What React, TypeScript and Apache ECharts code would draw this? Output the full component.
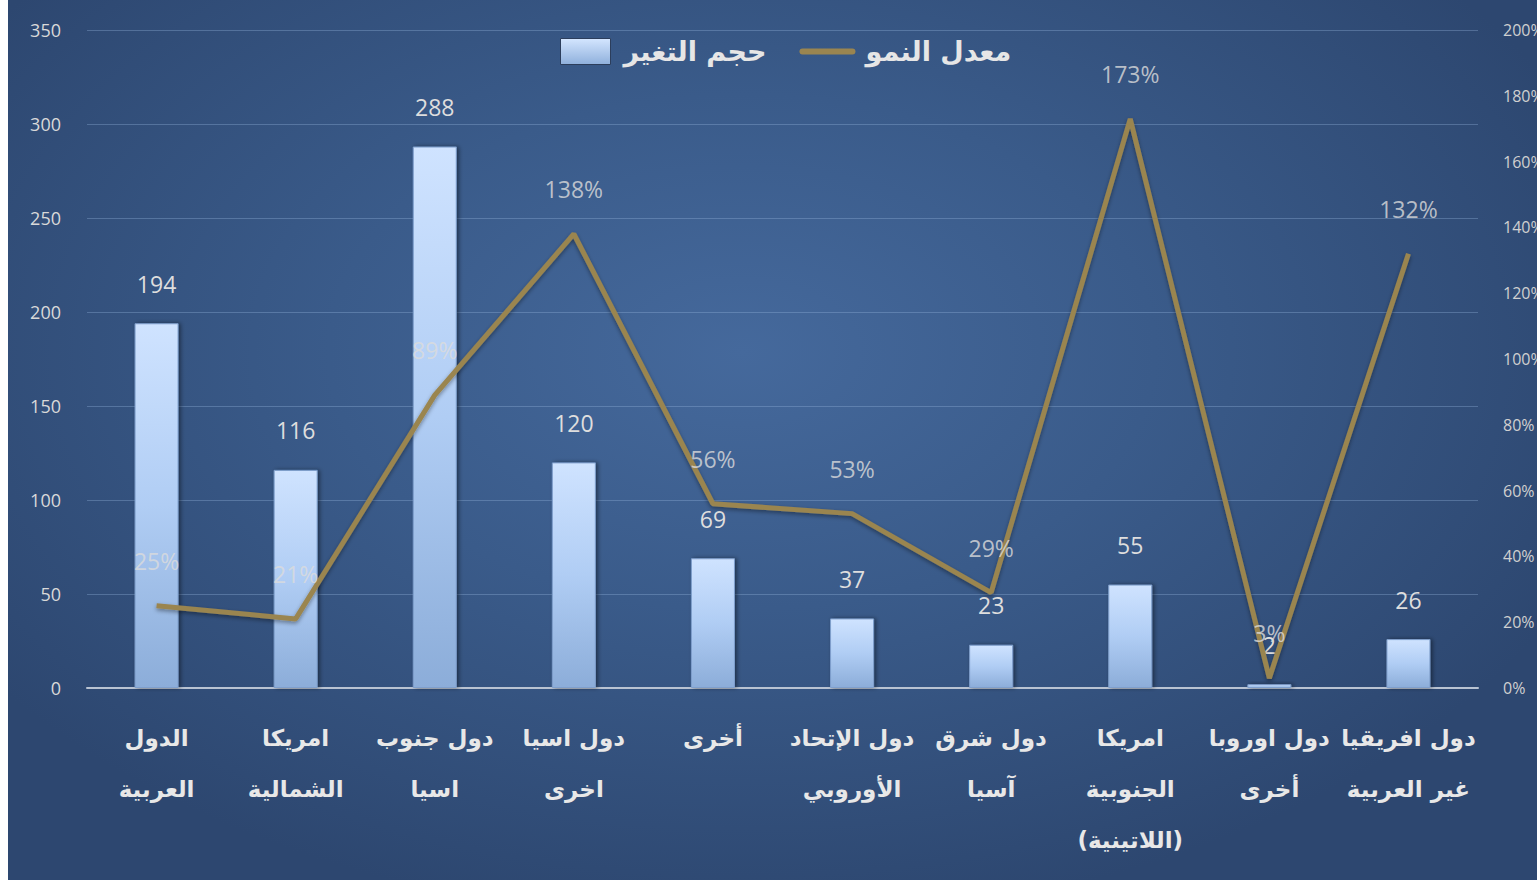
import React, { useEffect, useRef } from "react";
import * as echarts from "echarts";

const categories = [
  "الدول\nالعربية",
  "امريكا\nالشمالية",
  "دول جنوب\nاسيا",
  "دول اسيا\nاخرى",
  "أخرى",
  "دول الإتحاد\nالأوروبي",
  "دول شرق\nآسيا",
  "امريكا\nالجنوبية\n(اللاتينية)",
  "دول اوروبا\nأخرى",
  "دول افريقيا\nغير العربية",
];
const changeVolume = [194, 116, 288, 120, 69, 37, 23, 55, 2, 26];
const growthRate = [25, 21, 89, 138, 56, 53, 29, 173, 3, 132];
const leftTicks = [0, 50, 100, 150, 200, 250, 300, 350];
const rightTicks = [0, 20, 40, 60, 80, 100, 120, 140, 160, 180, 200];

const barName = "حجم التغير";
const lineName = "معدل النمو";
const FONT = "'Open Sans', 'DejaVu Sans', sans-serif";
const ARFONT = "'DejaVu Sans', 'Noto Sans', sans-serif";
const LINE_COLOR = "#9a8550";

export default function App() {
  const ref = useRef<HTMLDivElement>(null);
  useEffect(() => {
    if (!ref.current) return;
    const chart = echarts.init(ref.current, null, { renderer: "svg" });
    const rates = growthRate.map((v) => v / 100);
    chart.setOption({
      animation: false,
      backgroundColor: "transparent",
      legend: {
        top: 33,
        left: 547,
        itemGap: 33,
        itemWidth: 50,
        itemHeight: 26,
        textStyle: {
          color: "#e6e6e6",
          fontSize: 27,
          fontWeight: "bold",
          fontFamily: ARFONT,
          padding: [0, 0, 0, 8],
        },
        data: [
          {
            name: barName,
            icon: "rect",
            itemStyle: {
              color: new echarts.graphic.LinearGradient(0, 0, 0, 1, [
                { offset: 0, color: "#d4e6ff" },
                { offset: 1, color: "#8fb0dc" },
              ]),
              borderColor: "#2c3e5c",
              borderWidth: 1,
            },
          },
          {
            name: lineName,
            itemStyle: { opacity: 0 },
            lineStyle: { color: LINE_COLOR, width: 6, cap: "round" },
          },
        ],
      },
      grid: {
        left: 79,
        right: 59,
        top: 30,
        bottom: 192,
        containLabel: false,
        outerBoundsMode: "none",
      },
      xAxis: {
        type: "category",
        data: categories,
        axisLine: { lineStyle: { color: "#b9c3d2", width: 2 } },
        axisTick: { show: false },
        axisLabel: {
          interval: 0,
          color: "#e8e8e8",
          fontSize: 23,
          fontWeight: "bold",
          fontFamily: ARFONT,
          lineHeight: 51,
          margin: 24,
        },
      },
      yAxis: [
        {
          type: "value",
          min: leftTicks[0],
          max: leftTicks[leftTicks.length - 1],
          interval: 50,
          axisLine: { show: false },
          axisTick: { show: false },
          splitLine: { lineStyle: { color: "rgba(150,180,220,0.35)", width: 1 } },
          axisLabel: {
            color: "#d9d9d9",
            fontSize: 18,
            fontFamily: FONT,
            margin: 26,
            padding: [0, 0, 6, 0],
          },
        },
        {
          type: "value",
          min: rightTicks[0] / 100,
          max: rightTicks[rightTicks.length - 1] / 100,
          interval: 0.2,
          axisLine: { show: false },
          axisTick: { show: false },
          splitLine: { show: false },
          axisLabel: {
            color: "#d0d0d0",
            fontSize: 16,
            fontFamily: FONT,
            margin: 25,
            padding: [0, 0, 6, 0],
            formatter: (v: number) => Math.round(v * 100) + "%",
          },
        },
      ],
      series: [
        {
          name: barName,
          type: "bar",
          data: changeVolume,
          barWidth: 44,
          itemStyle: {
            color: new echarts.graphic.LinearGradient(0, 0, 0, 1, [
              { offset: 0, color: "#cfe3ff" },
              { offset: 0.5, color: "#b0cdf4" },
              { offset: 1, color: "#8cadd9" },
            ]),
            borderColor: "#7f9fcc",
            borderWidth: 1,
            shadowColor: "rgba(0,0,0,0.45)",
            shadowBlur: 4,
            shadowOffsetX: 2,
          },
          label: {
            show: true,
            position: "top",
            distance: 28,
            color: "#dedede",
            fontSize: 23,
            fontFamily: FONT,
          },
        },
        {
          name: lineName,
          type: "line",
          yAxisIndex: 1,
          data: rates,
          symbol: "none",
          lineStyle: {
            color: LINE_COLOR,
            width: 5,
            shadowColor: "rgba(0,0,0,0.4)",
            shadowBlur: 4,
            shadowOffsetY: 2,
          },
          itemStyle: { color: LINE_COLOR },
        },
        {
          name: "labels",
          type: "scatter",
          yAxisIndex: 1,
          data: rates,
          symbolSize: 1,
          itemStyle: { color: "rgba(0,0,0,0)" },
          label: {
            show: true,
            position: "top",
            distance: 33,
            color: "#dcdcdc",
            fontSize: 23,
            fontFamily: FONT,
            formatter: (p: any) => Math.round(p.value * 100) + "%",
          },
          silent: true,
          z: 5,
        },
      ],
    });
    return () => chart.dispose();
  }, []);
  return (
    <div
      style={{
        position: "absolute",
        left: 8,
        top: 0,
        width: 1529,
        height: 880,
        background:
          "radial-gradient(ellipse 60% 65% at 48% 40%, #45699c 0%, #3a5b8a 45%, #2d4770 100%)",
      }}
    >
      <div ref={ref} style={{ width: 1529, height: 880 }} />
    </div>
  );
}
